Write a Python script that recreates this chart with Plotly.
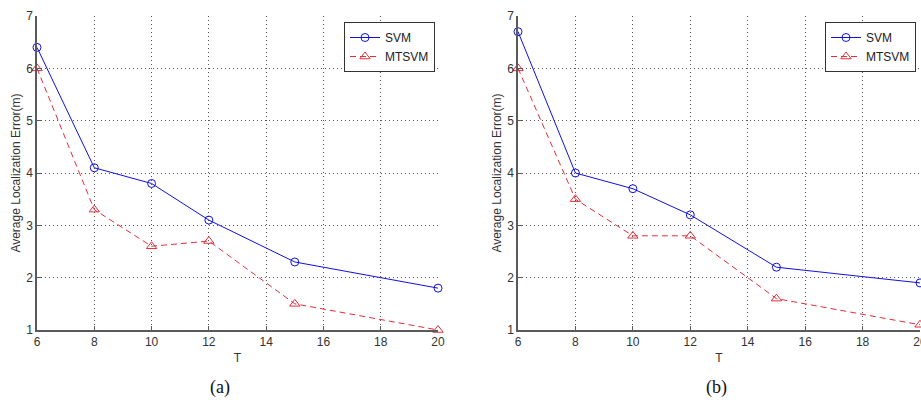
import plotly.graph_objects as go

T = [6, 8, 10, 12, 15, 20]
svm_a = [6.4, 4.1, 3.8, 3.1, 2.3, 1.8]
mtsvm_a = [6.0, 3.3, 2.6, 2.7, 1.5, 1.0]
svm_b = [6.7, 4.0, 3.7, 3.2, 2.2, 1.9]
mtsvm_b = [6.0, 3.5, 2.8, 2.8, 1.6, 1.1]
x_ticks = [6, 8, 10, 12, 14, 16, 18, 20]
y_ticks = [1, 2, 3, 4, 5, 6, 7]
panel_labels = ["(a)", "(b)"]

W, H = 921, 402
BLUE = "#1010E0"
RED = "#E0303A"
AX = "#5a5a5a"
FONT = "Liberation Sans, Arial, sans-serif"

fig = go.Figure()

def add_panel(i, svm, mts, legend_name):
    xa = "x" if i == 0 else "x2"
    ya = "y" if i == 0 else "y2"
    fig.add_trace(go.Scatter(x=T, y=svm, mode="lines+markers", name="SVM",
                             line=dict(color=BLUE, width=1),
                             marker=dict(symbol="circle-open", size=8, color=BLUE, line=dict(width=1)),
                             xaxis=xa, yaxis=ya, legend=legend_name, cliponaxis=False))
    fig.add_trace(go.Scatter(x=T, y=mts, mode="lines+markers", name="MTSVM",
                             line=dict(color=RED, width=1, dash="6px,4px"),
                             marker=dict(symbol="triangle-up-open", size=9, color=RED, line=dict(width=1)),
                             xaxis=xa, yaxis=ya, legend=legend_name, cliponaxis=False))

add_panel(0, svm_a, mtsvm_a, "legend")
add_panel(1, svm_b, mtsvm_b, "legend2")

ydom = [(H - 330) / H, (H - 16) / H]
xdoms = [[37 / W, 438 / W], [518 / W, 920 / W]]

common_x = dict(range=[6, 20], tickvals=x_ticks, ticktext=[str(v) for v in x_ticks],
                showgrid=True, gridcolor="#555", griddash="1px,3px", gridwidth=1,
                showline=True, linecolor=AX, linewidth=1.5, ticks="inside", ticklen=4,
                tickcolor=AX, zeroline=False, automargin=False, ticklabeloverflow="allow",
                tickfont=dict(family=FONT, size=12, color="#333"),
                title=dict(text="T", font=dict(family=FONT, size=12, color="#333"), standoff=5))
common_y = dict(range=[1, 7], tickvals=y_ticks, ticktext=[str(v) for v in y_ticks],
                showgrid=True, gridcolor="#555", griddash="1px,3px", gridwidth=1,
                showline=True, linecolor=AX, linewidth=1.5, ticks="inside", ticklen=4,
                tickcolor=AX, zeroline=False, domain=ydom, automargin=False,
                tickfont=dict(family=FONT, size=12, color="#333"),
                title=dict(text="Average Localization Error(m)",
                           font=dict(family=FONT, size=12, color="#333"), standoff=3))

fig.update_layout(
    width=W, height=H, margin=dict(l=0, r=0, t=0, b=0, autoexpand=False),
    paper_bgcolor="white", plot_bgcolor="white",
    xaxis=dict(common_x, domain=xdoms[0], anchor="y"),
    yaxis=dict(common_y, anchor="x"),
    xaxis2=dict(common_x, domain=xdoms[1], anchor="y2"),
    yaxis2=dict(common_y, anchor="x2"),
    legend=dict(x=435 / W, y=(H - 22) / H, xanchor="right", yanchor="top",
                bgcolor="white", bordercolor="#333", borderwidth=1,
                font=dict(family=FONT, size=12, color="#222"), tracegroupgap=0,
                itemwidth=30),
    legend2=dict(x=916 / W, y=(H - 22) / H, xanchor="right", yanchor="top",
                 bgcolor="white", bordercolor="#333", borderwidth=1,
                 font=dict(family=FONT, size=12, color="#222"), tracegroupgap=0,
                 itemwidth=30),
    showlegend=True,
)

for i, lbl in enumerate(panel_labels):
    fig.add_annotation(text=lbl, x=(220 if i == 0 else 716) / W, y=(H - 387) / H,
                       xref="paper", yref="paper", showarrow=False,
                       xanchor="center", yanchor="middle",
                       font=dict(family="Liberation Serif, Times New Roman, serif", size=18, color="#111"))

fig.write_html("out.html", config={"displayModeBar": False},
               post_script="document.body.style.margin='0';document.body.style.overflow='hidden';")
